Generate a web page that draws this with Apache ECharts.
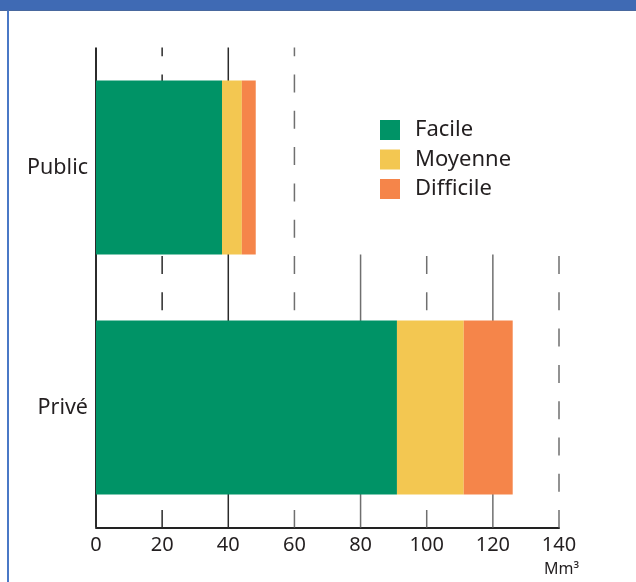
<!DOCTYPE html>
<html>
<head>
<meta charset="utf-8">
<script src="https://cdn.jsdelivr.net/npm/echarts@6/dist/echarts.min.js"></script>
<style>html,body{margin:0;padding:0;background:#fff;}#c{width:636px;height:582px;}</style>
</head>
<body>
<div id="c"></div>
<script>
// ---- data ----
const categories = ['Public', 'Privé'];
const facile = [38.1, 91.0];
const moyenne = [6.0, 20.2];
const difficile = [4.2, 14.8];
const seriesNames = ['Facile', 'Moyenne', 'Difficile'];
const xTicks = [0, 20, 40, 60, 80, 100, 120, 140];
const unitLabel = 'Mm³';

// ---- chart ----
const FONT = 'Noto Sans';
const TEXT = '#231F20';
const BAR_W = 174;
const chart = echarts.init(document.getElementById('c'), null, {renderer: 'canvas'});

function renderGridLine(params, api) {
  const v = api.value(0);
  const cs = params.coordSys;
  const x = api.coord([v, 0])[0];
  const bottom = cs.y + cs.height;
  let top = cs.y;
  // lines right of the legend only start below the first bar
  if (v >= 70) top = api.coord([0, 0])[1] + BAR_W / 2;
  const dashed = v % 40 !== 0;
  const dark = v <= 40;
  const period = 36.3;
  const phase0 = cs.y - 9.3;
  const offset = ((top - phase0) % period + period) % period;
  return {
    type: 'line',
    shape: {x1: x, y1: top, x2: x, y2: bottom},
    style: {
      stroke: dark ? '#2b2b2b' : '#6f6f6f',
      lineWidth: v === 0 ? 2 : 1.5,
      lineDash: dashed ? [18, 18.3] : null,
      lineDashOffset: offset
    }
  };
}

const barColors = ['#009366', '#F3C751', '#F5854A'];
const barData = [facile, moyenne, difficile];

const option = {
  animation: false,
  backgroundColor: '#ffffff',
  grid: {left: 96, right: 77, top: 47.5, bottom: 54.5, outerBoundsMode: 'none'},
  legend: {
    data: seriesNames,
    orient: 'vertical',
    left: 380,
    top: 119,
    padding: 0,
    itemWidth: 20,
    itemHeight: 20,
    itemGap: 7.5,
    icon: 'rect',
    textStyle: {fontFamily: FONT, fontSize: 22, lineHeight: 20, color: TEXT, padding: [0, 0, 0, 10]}
  },
  xAxis: {
    type: 'value',
    min: 0,
    max: 140,
    interval: 20,
    axisLine: {show: true, lineStyle: {color: '#222', width: 2}},
    axisTick: {show: false},
    splitLine: {show: false},
    axisLabel: {
      fontFamily: FONT, fontSize: 20, color: TEXT, margin: 8,
      formatter: function (v) { return xTicks.indexOf(v) >= 0 ? String(v) : ''; }
    }
  },
  yAxis: {
    type: 'category',
    data: categories,
    inverse: true,
    axisLine: {show: false},
    axisTick: {show: false},
    splitLine: {show: false},
    axisLabel: {fontFamily: FONT, fontSize: 21.5, color: TEXT, margin: 8}
  },
  series: [
    {
      type: 'custom',
      name: 'grid',
      z: 1,
      silent: true,
      renderItem: renderGridLine,
      data: xTicks.map(v => [v]),
      encode: {x: 0},
      clip: false
    }
  ].concat(seriesNames.map((n, i) => ({
    type: 'bar',
    name: n,
    stack: 'total',
    z: 3,
    barWidth: BAR_W,
    itemStyle: {color: barColors[i]},
    data: barData[i]
  }))),
  graphic: [
    {type: 'rect', shape: {x: 0, y: 0, width: 636, height: 10.5}, style: {fill: '#3F6AB4'}, z: 10},
    {type: 'rect', shape: {x: 0, y: 10, width: 636, height: 0.8}, style: {fill: '#2d4f8a'}, z: 10},
    {type: 'rect', shape: {x: 7, y: 10.5, width: 2, height: 572}, style: {fill: '#4A78C6'}, z: 10},
    {type: 'text', x: 579, y: 569, style: {text: unitLabel, fontFamily: FONT, fontSize: 16, fill: TEXT, align: 'right', verticalAlign: 'middle'}, z: 10}
  ]
};
chart.setOption(option);
</script>
</body>
</html>
